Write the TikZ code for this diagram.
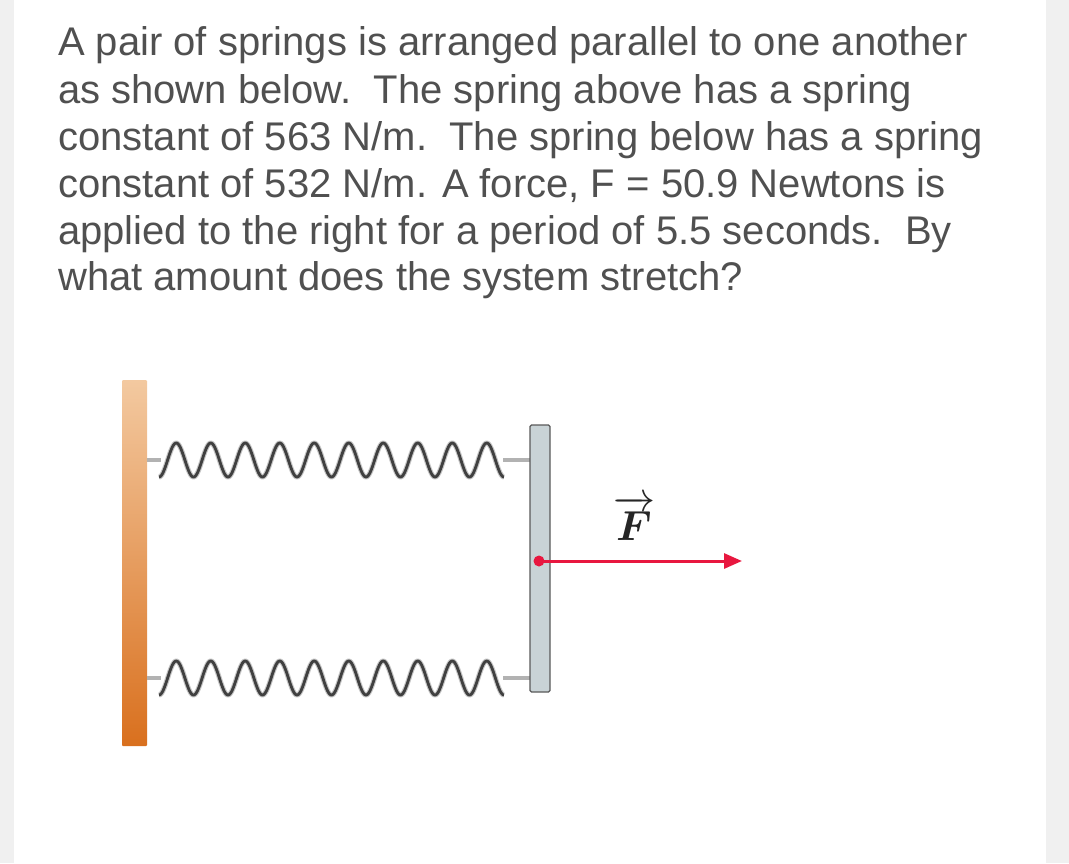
\documentclass[tikz,border=0pt]{standalone}
\usepackage{amsmath,amsbsy}
\usepackage{graphicx}
\usepackage{fontspec}
\setmainfont{Liberation Sans}
\usetikzlibrary{arrows.meta}
\definecolor{txt}{HTML}{505050}
\definecolor{wallA}{HTML}{F3C9A0}
\definecolor{wallB}{HTML}{D9701E}
\definecolor{plate}{HTML}{C9D3D6}
\definecolor{fred}{HTML}{E8173F}
\tikzset{
  line/.style={anchor=base west,font=\fontsize{40}{46}\selectfont,text=txt,inner sep=0},
  coilspring/.style={line width=2.8pt,color=black!75,line join=round},
  coilshadow/.style={line width=5pt,color=gray!45,line join=round},
  stub/.style={line width=4pt,color=gray!60},
}
\newcommand{\springat}[1]{%
  \draw[coilshadow] plot[domain=0:345,samples=400,smooth] ({159+\x},{#1-20*sin(\x/34.5*360 - 90) - 3*cos(\x/34.5*360)});
  \draw[coilspring] plot[domain=0:345,samples=400,smooth] ({159+\x},{#1-20*sin(\x/34.5*360 - 90) - 3*cos(\x/34.5*360)});
}
\begin{document}
\begin{tikzpicture}[x=1pt,y=-1pt]
\useasboundingbox (0,0) rectangle (1069,863);
\fill[gray!12] (1046,0) rectangle (1069,863);
\fill[gray!12] (0,0) rectangle (14,863);
\node[line] (l1) at (58,55) {A pair of springs is arranged parallel to one another};
\node[line] (l2) at (58,103) {as shown below.\ \ The spring above has a spring};
\node[line] (l3) at (58,150) {constant of 563 N/m.\ \ The spring below has a spring};
\node[line] (l4) at (58,197) {constant of 532 N/m. A force, F = 50.9 Newtons is};
\node[line] (l5) at (58,244) {applied to the right for a period of 5.5 seconds.\ \ By};
\node[line] (l6) at (58,290) {what amount does the system stretch?};
% wall
\shade[top color=wallA,bottom color=wallB,rounded corners=1pt] (122,380) rectangle (147,746);
\coordinate (w1) at (147,460);
\coordinate (w2) at (147,678);
\coordinate (p1) at (530,460);
\coordinate (p2) at (530,678);
\draw[stub] (w1) -- ++(14,0);
\draw[stub] (w2) -- ++(14,0);
\draw[stub] (p1) -- ++(-27,0);
\draw[stub] (p2) -- ++(-27,0);
\springat{460}
\springat{678}
% plate
\draw[fill=plate,draw=gray!70!black,line width=1.2pt,rounded corners=1.5pt] (530,425) rectangle (550,692);
% force
\coordinate (f0) at (539,561);
\coordinate (f1) at (742,561);
\draw[fred,line width=3pt,-{Triangle[length=18pt,width=15pt]}] (f0) -- (f1);
\fill[fred] (f0) circle (5.5);
\node[text=black!85,inner sep=0] (F) at (634,518) {\scalebox{4.2}{$\overrightarrow{\boldsymbol{F}}$}};
\end{tikzpicture}
\end{document}
